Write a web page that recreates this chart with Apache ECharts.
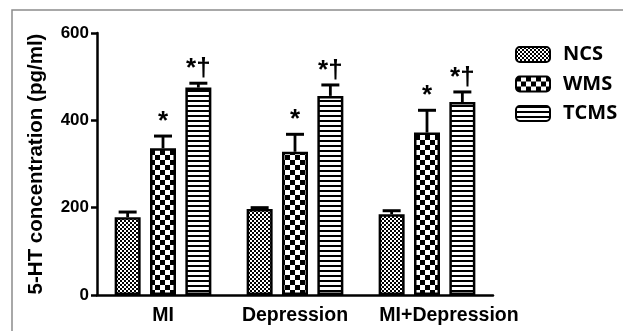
<!DOCTYPE html>
<html><head><meta charset="utf-8">
<script src="https://cdn.jsdelivr.net/npm/echarts@6/dist/echarts.min.js"></script>
<style>html,body{margin:0;padding:0;background:#fff;}#c{width:623px;height:331px;}</style>
</head><body><div id="c"></div>
<script>
const categories = ['MI', 'Depression', 'MI+Depression'];
const seriesNames = ['NCS', 'WMS', 'TCMS'];
const ncsValues = [178, 197, 185];
const wmsValues = [336, 328, 372];
const tcmsValues = [475, 456, 442];
const ncsErrTop = [190, 200, 193];
const wmsErrTop = [364, 368, 423];
const tcmsErrTop = [485, 481, 465];
const ncsMarks = ['', '', ''];
const wmsMarks = ['*', '*', '*'];
const tcmsMarks = ['*†', '*†', '*†'];
const yTicks = [0, 200, 400, 600];

function makePattern(kind) {
  const c = document.createElement('canvas');
  const ctx = c.getContext('2d');
  if (kind === 'fine') {
    c.width = 4; c.height = 4;
    ctx.fillStyle = '#fff'; ctx.fillRect(0, 0, 4, 4);
    ctx.fillStyle = '#000';
    ctx.fillRect(0, 0, 2, 2); ctx.fillRect(2, 2, 2, 2);
  } else if (kind === 'checker') {
    c.width = 10; c.height = 10;
    ctx.fillStyle = '#fff'; ctx.fillRect(0, 0, 10, 10);
    ctx.fillStyle = '#000';
    ctx.fillRect(0, 0, 5, 5); ctx.fillRect(5, 5, 5, 5);
  } else {
    c.width = 5; c.height = 5;
    ctx.fillStyle = '#fff'; ctx.fillRect(0, 0, 5, 5);
    ctx.fillStyle = '#000';
    ctx.fillRect(0, 0, 5, 2);
  }
  return { image: c, repeat: 'repeat' };
}
const patterns = [makePattern('fine'), makePattern('checker'), makePattern('stripe')];
const values = [ncsValues, wmsValues, tcmsValues];
const errTops = [ncsErrTop, wmsErrTop, tcmsErrTop];
const marks = [ncsMarks, wmsMarks, tcmsMarks];

const BAR_W = 26, GAP_RATIO = 0.36;
const axisFont = 'Liberation Sans';

const series = [];
seriesNames.forEach((name, i) => {
  series.push({
    name: name, type: 'bar', barWidth: BAR_W, barGap: (GAP_RATIO * 100) + '%',
    data: values[i],
    itemStyle: { color: patterns[i], borderColor: '#000', borderWidth: 2.5 },
    z: 2
  });
});
seriesNames.forEach((name, i) => {
  series.push({
    type: 'custom', name: name + '_err', z: 3, silent: true,
    data: categories.map((c, j) => [j, values[i][j], errTops[i][j]]),
    renderItem: function (params, api) {
      const off = (i - 1) * BAR_W * (1 + GAP_RATIO);
      const base = api.coord([api.value(0), api.value(1)]);
      const top = api.coord([api.value(0), api.value(2)]);
      const x = base[0] + off;
      const cap = 9;
      const children = [
        { type: 'line', shape: { x1: x, y1: base[1], x2: x, y2: top[1] }, style: { stroke: '#000', lineWidth: 2.8 } },
        { type: 'line', shape: { x1: x - cap, y1: top[1], x2: x + cap, y2: top[1] }, style: { stroke: '#000', lineWidth: 3 } }
      ];
      const m = marks[i][params.dataIndex];
      if (m) {
        children.push({ type: 'text', style: { text: m, x: x, y: top[1] - 1, align: 'center', verticalAlign: 'bottom', fill: '#000', font: 'bold 26px "Liberation Sans"' } });
      }
      return { type: 'group', children: children };
    }
  });
});

const chart = echarts.init(document.getElementById('c'), null, { renderer: 'canvas' });
chart.setOption({
  backgroundColor: '#fff',
  animation: false,
  graphic: [{ type: 'rect', shape: { x: 12, y: 10, width: 700, height: 400 }, style: { fill: 'none', stroke: '#8c8c8c', lineWidth: 1.5 }, z: 0 }],
  legend: {
    data: seriesNames, orient: 'vertical', left: 515, top: 44, padding: 0,
    itemWidth: 34, itemHeight: 15, itemGap: 8.5,
    textStyle: { fontFamily: 'Open Sans', fontWeight: 'bold', fontSize: 20, lineHeight: 21, color: '#000', padding: [0, 0, 0, 8] }
  },
  grid: { left: 97, right: 130, top: 33, bottom: 36, containLabel: false },
  xAxis: {
    type: 'category',
    data: categories.map((c, j) => j === 2 ? { value: c, textStyle: { padding: [0, 0, 0, 44] } } : c),
    axisLine: { lineStyle: { color: '#000', width: 2.5 } },
    axisTick: { alignWithLabel: true, length: 6, lineStyle: { color: '#000', width: 2.5 } },
    axisLabel: { interval: 0, color: '#000', fontFamily: axisFont, fontWeight: 'bold', fontSize: 19.5, margin: 11 }
  },
  yAxis: {
    type: 'value', min: yTicks[0], max: yTicks[yTicks.length - 1], interval: yTicks[1] - yTicks[0],
    name: '5-HT concentration (pg/ml)', nameLocation: 'middle', nameGap: 50,
    nameTextStyle: { color: '#000', fontFamily: axisFont, fontWeight: 'bold', fontSize: 20.5 },
    axisLine: { show: true, lineStyle: { color: '#000', width: 2.5 } },
    axisTick: { show: true, length: 6, lineStyle: { color: '#000', width: 2.5 } },
    splitLine: { show: false },
    axisLabel: { color: '#000', fontFamily: axisFont, fontWeight: 'bold', fontSize: 17, margin: 8 }
  },
  series: series
});
</script></body></html>
